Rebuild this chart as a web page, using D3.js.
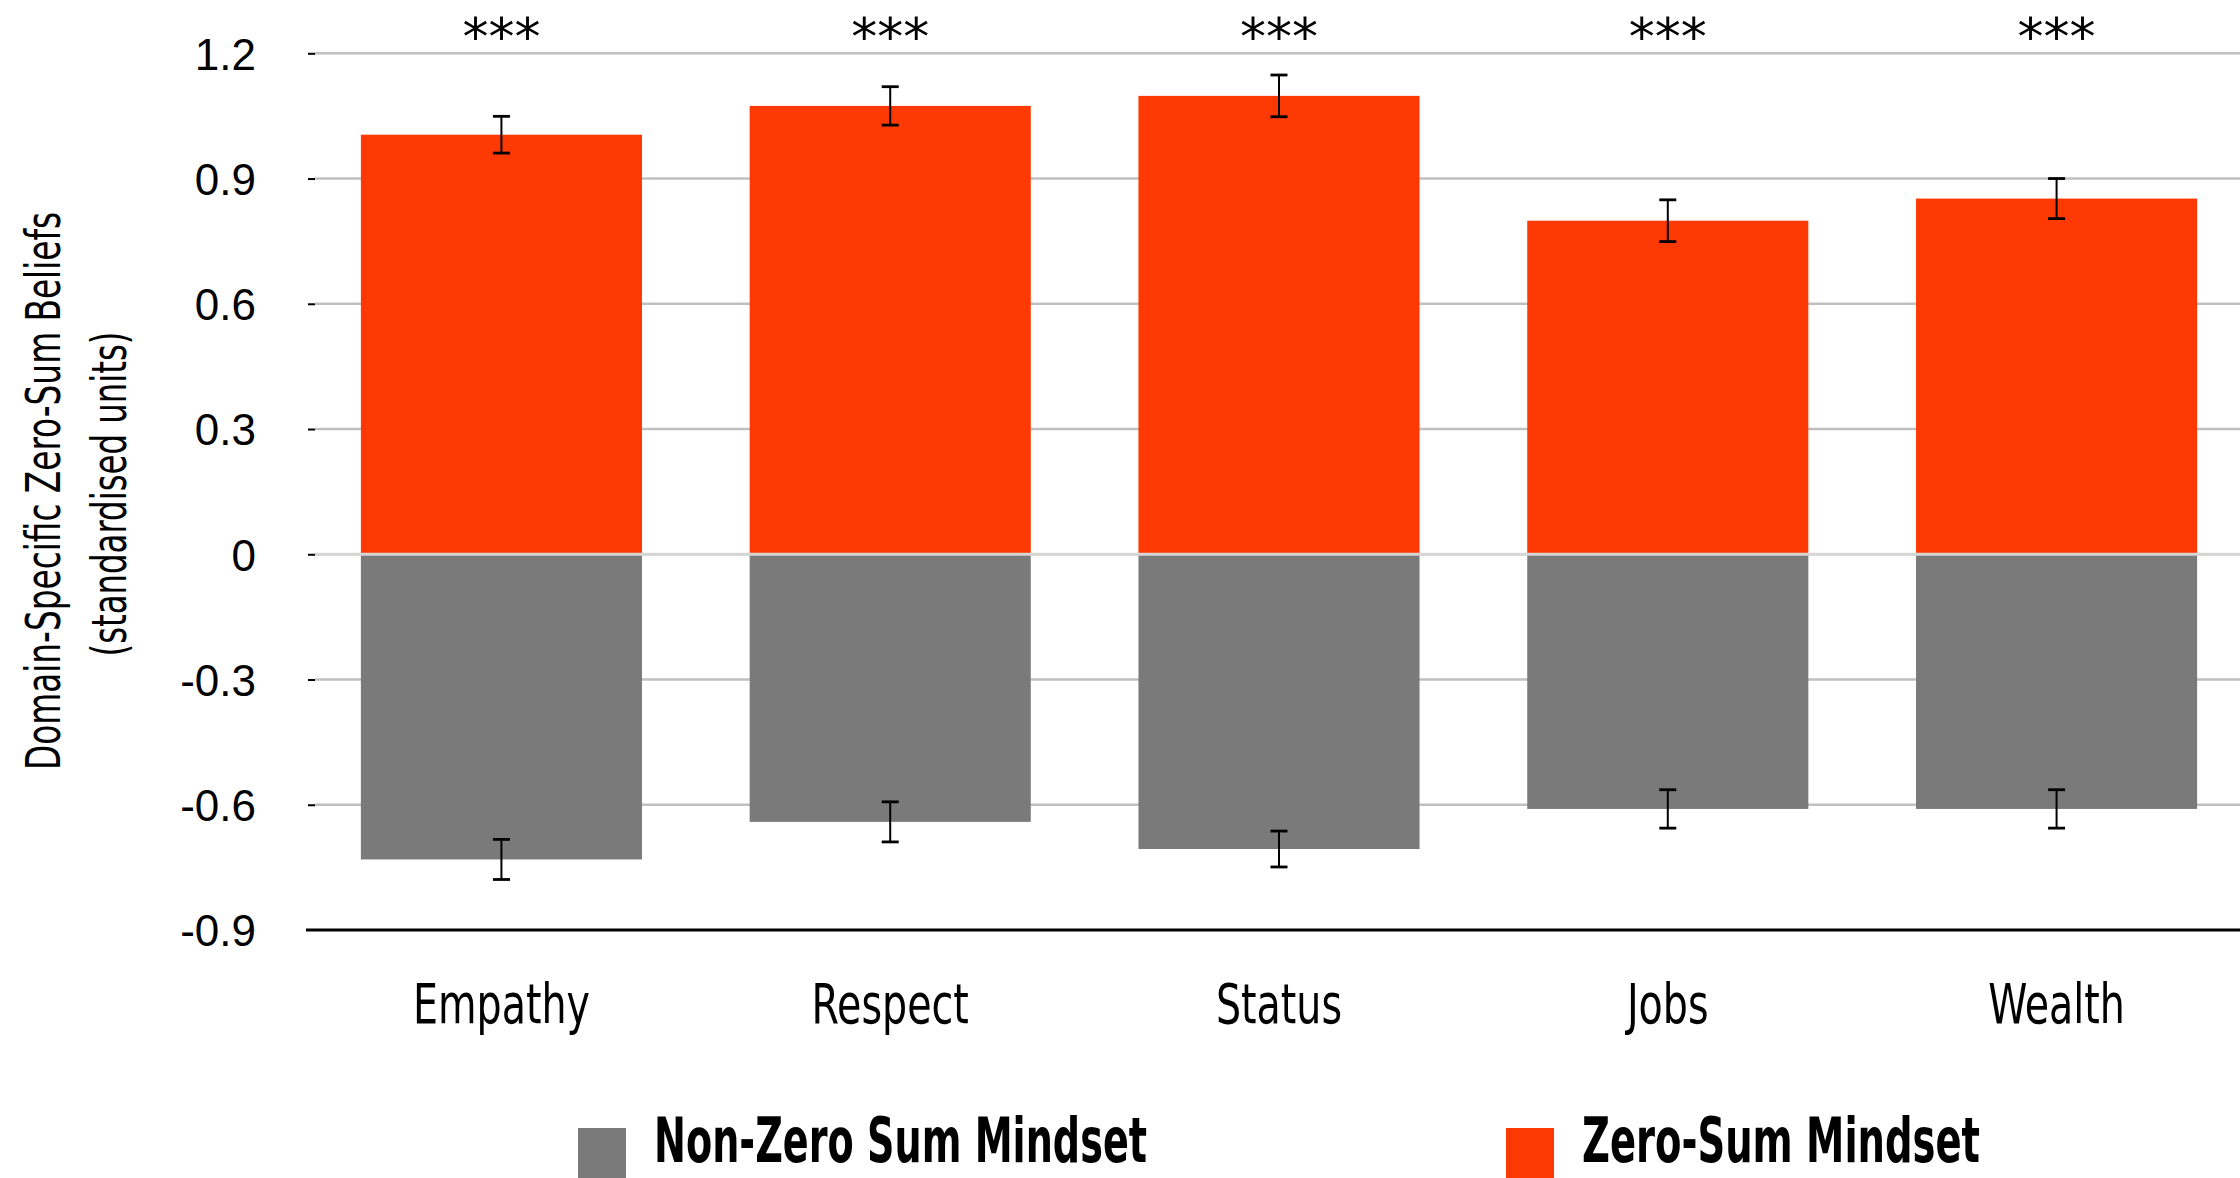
<!DOCTYPE html>
<html>
<head>
  <meta charset="UTF-8">
  <title>Zero-Sum Beliefs by Domain</title>
  <script src="https://d3js.org/d3.v7.min.js"></script>
  <style>
    body {
      margin: 0;
      background: #fff;
    }
    .grid line {
      stroke: #c0c0c0;
      stroke-width: 2.5;
    }
    .tick-label {
      font-family: "Liberation Sans", Arial, sans-serif;
      font-size: 44px;
      fill: #000;
    }
    .cat-label {
      font-family: "Liberation Sans Narrow", "DejaVu Sans Condensed", sans-serif;
      font-size: 55px;
      fill: #000;
    }
    .y-title {
      font-family: "Liberation Sans Narrow", "DejaVu Sans Condensed", sans-serif;
      font-size: 48px;
      fill: #000;
    }
    .legend-text {
      font-family: "Liberation Sans Narrow", "DejaVu Sans Condensed", sans-serif;
      font-weight: bold;
      font-size: 62px;
      fill: #000;
    }
    .stars {
      font-family: "DejaVu Sans", sans-serif;
      font-size: 52px;
    }
  </style>
</head>
<body>
  <div id="chart"></div>
  <script>
    const categories = ["Empathy", "Respect", "Status", "Jobs", "Wealth"];
    const zeroSum = [1.005, 1.074, 1.098, 0.799, 0.852];
    const zeroSumErr = [0.044, 0.046, 0.05, 0.05, 0.048];
    const nonZeroSum = [-0.731, -0.641, -0.706, -0.61, -0.61];
    const nonZeroSumErr = [0.048, 0.048, 0.043, 0.046, 0.046];
    const significance = ["***", "***", "***", "***", "***"];
    const yTicks = [-0.9, -0.6, -0.3, 0, 0.3, 0.6, 0.9, 1.2];
    const seriesNames = ["Non-Zero Sum Mindset", "Zero-Sum Mindset"];
    const seriesColors = ["#7a7a7a", "#ff3903"];

    const W = 2240, H = 1178;
    const plotLeft = 315, plotRight = 2240;

    const svg = d3.select("#chart")
      .append("svg")
      .attr("width", W)
      .attr("height", H);

    const x = d3.scaleBand()
      .domain(categories)
      .range([308, 2250])
      .paddingInner(0.277)
      .paddingOuter(0.136);

    const y = d3.scaleLinear()
      .domain([-0.9, 1.2])
      .range([930, 53.3]);

    // plain hyphen for negatives, like the original
    const fmt = d => d === 0 ? "0" : d.toFixed(1);

    // gridlines (not the bottom one, that's the black baseline)
    svg.append("g")
      .attr("class", "grid")
      .selectAll("line")
      .data(yTicks.filter(t => t > -0.9))
      .enter()
      .append("line")
      .attr("x1", plotLeft)
      .attr("x2", plotRight)
      .attr("y1", d => y(d))
      .attr("y2", d => y(d));

    // small tick dashes + labels
    const yAxis = d3.axisLeft(y)
      .tickValues(yTicks)
      .tickSize(7)
      .tickPadding(52)
      .tickFormat(fmt);

    const yg = svg.append("g")
      .attr("transform", `translate(${plotLeft},0)`)
      .call(yAxis);
    yg.select(".domain").remove();
    yg.selectAll(".tick line")
      .attr("stroke", "#000")
      .attr("stroke-width", 2)
      .filter(d => d === -0.9).remove();
    yg.selectAll(".tick text")
      .attr("class", "tick-label")
      .attr("dy", "0.36em");
    yg.attr("font-size", null).attr("font-family", null);

    // bars
    const rows = categories.map((c, i) => ({
      cat: c,
      pos: zeroSum[i], posErr: zeroSumErr[i],
      neg: nonZeroSum[i], negErr: nonZeroSumErr[i],
      sig: significance[i]
    }));

    svg.selectAll(".bar-pos")
      .data(rows)
      .enter()
      .append("rect")
      .attr("class", "bar-pos")
      .attr("x", d => x(d.cat))
      .attr("width", x.bandwidth())
      .attr("y", d => y(d.pos))
      .attr("height", d => y(0) - y(d.pos))
      .attr("fill", seriesColors[1]);

    svg.selectAll(".bar-neg")
      .data(rows)
      .enter()
      .append("rect")
      .attr("class", "bar-neg")
      .attr("x", d => x(d.cat))
      .attr("width", x.bandwidth())
      .attr("y", y(0))
      .attr("height", d => y(d.neg) - y(0))
      .attr("fill", seriesColors[0]);

    // zero line sits over the bars
    svg.append("line")
      .attr("x1", plotLeft)
      .attr("x2", plotRight)
      .attr("y1", y(0))
      .attr("y2", y(0))
      .attr("stroke", "#d6d6d6")
      .attr("stroke-width", 3);

    // black baseline at -0.9
    svg.append("line")
      .attr("x1", 306)
      .attr("x2", plotRight)
      .attr("y1", y(-0.9))
      .attr("y2", y(-0.9))
      .attr("stroke", "#000")
      .attr("stroke-width", 3);

    // error bars
    const errs = [];
    rows.forEach(d => {
      errs.push({ cat: d.cat, v: d.pos, e: d.posErr });
      errs.push({ cat: d.cat, v: d.neg, e: d.negErr });
    });
    const capW = 17;
    const eg = svg.selectAll(".err")
      .data(errs)
      .enter()
      .append("g")
      .attr("class", "err")
      .attr("transform", d => `translate(${x(d.cat) + x.bandwidth() / 2},0)`);
    eg.append("line")
      .attr("x1", 0).attr("x2", 0)
      .attr("y1", d => y(d.v + d.e))
      .attr("y2", d => y(d.v - d.e))
      .attr("stroke", "#000")
      .attr("stroke-width", 2);
    eg.append("line")
      .attr("x1", -capW / 2).attr("x2", capW / 2)
      .attr("y1", d => y(d.v + d.e))
      .attr("y2", d => y(d.v + d.e))
      .attr("stroke", "#000")
      .attr("stroke-width", 2.8);
    eg.append("line")
      .attr("x1", -capW / 2).attr("x2", capW / 2)
      .attr("y1", d => y(d.v - d.e))
      .attr("y2", d => y(d.v - d.e))
      .attr("stroke", "#000")
      .attr("stroke-width", 2.8);

    // significance stars
    svg.selectAll(".stars")
      .data(rows)
      .enter()
      .append("text")
      .attr("class", "stars")
      .attr("x", d => x(d.cat) + x.bandwidth() / 2)
      .attr("y", 55)
      .attr("text-anchor", "middle")
      .text(d => d.sig);

    // category labels, squeezed a bit since the fallback font runs wide
    svg.selectAll(".cat-label")
      .data(categories)
      .enter()
      .append("text")
      .attr("class", "cat-label")
      .attr("x", d => x(d) + x.bandwidth() / 2)
      .attr("y", 1023)
      .attr("text-anchor", "middle")
      .text(d => d)
      .each(function() {
        const len = this.getComputedTextLength();
        if (len > 0) {
          d3.select(this)
            .attr("textLength", len * 0.8)
            .attr("lengthAdjust", "spacingAndGlyphs");
        }
      });

    // y axis title, two lines
    const title = svg.append("g")
      .attr("transform", "translate(0,491) rotate(-90)");
    title.append("text")
      .attr("class", "y-title")
      .attr("x", 0).attr("y", 60)
      .attr("text-anchor", "middle")
      .attr("textLength", 558)
      .attr("lengthAdjust", "spacingAndGlyphs")
      .text("Domain-Specific Zero-Sum Beliefs");
    title.append("text")
      .attr("class", "y-title")
      .attr("x", -3).attr("y", 126)
      .attr("text-anchor", "middle")
      .attr("textLength", 325)
      .attr("lengthAdjust", "spacingAndGlyphs")
      .text("(standardised units)");

    // legend
    const legendX = [578, 1506];
    const legendW = [493, 398];
    const lg = svg.selectAll(".legend")
      .data(seriesNames)
      .enter()
      .append("g")
      .attr("class", "legend")
      .attr("transform", (d, i) => `translate(${legendX[i]},0)`);
    lg.append("rect")
      .attr("x", 0)
      .attr("y", 1128)
      .attr("width", 48)
      .attr("height", 50)
      .attr("fill", (d, i) => seriesColors[i]);
    lg.append("text")
      .attr("class", "legend-text")
      .attr("x", 76)
      .attr("y", 1162)
      .attr("textLength", (d, i) => legendW[i])
      .attr("lengthAdjust", "spacingAndGlyphs")
      .text(d => d);
  </script>
</body>
</html>
